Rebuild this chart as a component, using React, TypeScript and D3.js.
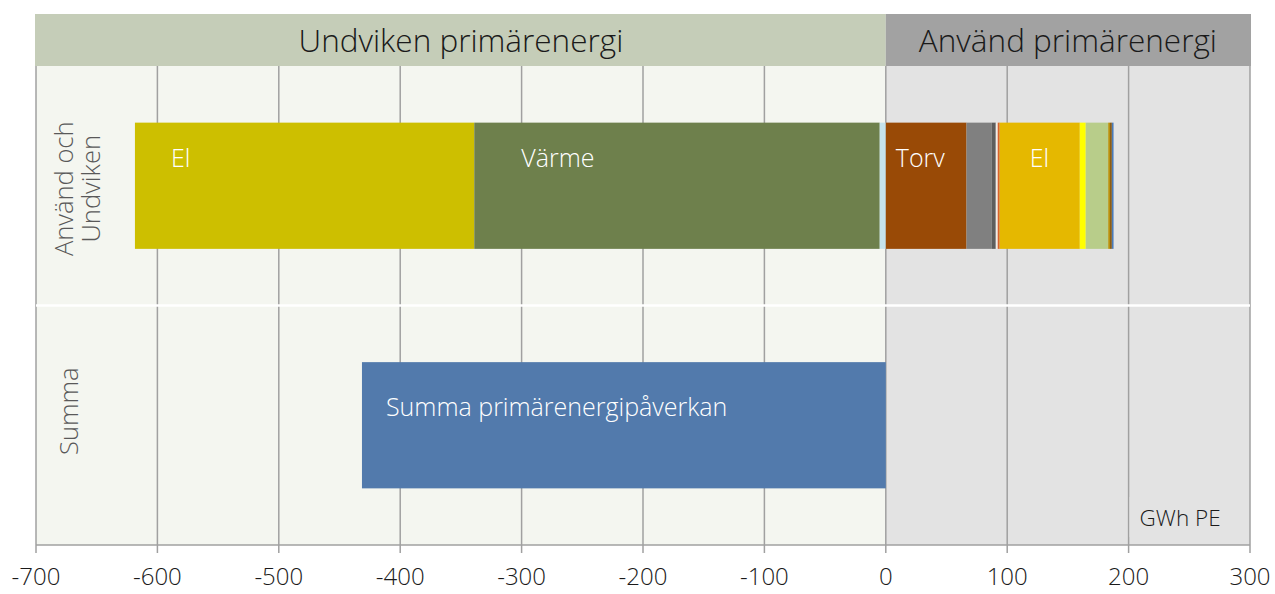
import React from 'react';
import * as d3 from 'd3';

const W = 1275;
const H = 594;

const categories = ['Använd och Undviken', 'Summa'];
const categoryLines = [['Använd och', 'Undviken'], ['Summa']];

// avoided primary energy (negative), left to right from the far end
const avoidedNames = ['El', 'Värme', 'Övrigt'];
const avoidedValues = [-279.5, -334, -5];
const avoidedColors = ['#cdbf00', '#6e804c', '#c5e3ec'];
const avoidedLabels = ['El', 'Värme', ''];

// used primary energy (positive), from 0 outwards
const usedNames = ['Torv', 'Avfall', 'Olja', 'Ljus', 'Gas', 'El', 'Sol', 'Bio', 'Kol', 'Trä', 'Vatten'];
const usedValues = [66.5, 20.8, 3.3, 1.6, 1.6, 66, 4.9, 18.5, 1.5, 1.5, 1.4];
const usedColors = ['#994a06', '#808080', '#5e5e5e', '#f2ece6', '#d9622b', '#e5b800', '#ffff00', '#b8cd8a', '#b8900b', '#8b5a10', '#4a7ab8'];
const usedLabels = ['Torv', '', '', '', '', 'El', '', '', '', '', ''];

const summaValue = -431.5;
const summaLabel = 'Summa primärenergipåverkan';

const xTicks = [-700, -600, -500, -400, -300, -200, -100, 0, 100, 200, 300];
const headerLeft = 'Undviken primärenergi';
const headerRight = 'Använd primärenergi';
const unitLabel = 'GWh PE';

const font = '"Open Sans", "Segoe UI", sans-serif';

// label inset from the left edge of its segment, px
const labelInset: Record<string, number> = { 'neg-El': 36, 'neg-Värme': 47, 'pos-Torv': 10, 'pos-El': 30 };

export default function App() {
  const top = 66;
  const bottom = 545;
  const x = d3.scaleLinear().domain([-700, 300]).range([36, 1250]);
  const y = d3.scaleBand<string>().domain(categories).range([top, bottom]).padding(0);
  const bw = y.bandwidth();
  const barH = bw * 0.527;
  const barY = (c: string) => (y(c) as number) + (bw - barH) / 2;

  // stack negative pieces from the far end toward zero
  let acc = d3.sum(avoidedValues);
  const negSegs = avoidedValues.map((v, i) => {
    const s = acc;
    acc = acc - v;
    return { key: 'neg-' + avoidedNames[i], x0: s, x1: acc, color: avoidedColors[i], label: avoidedLabels[i] };
  });
  let pacc = 0;
  const posSegs = usedValues.map((v, i) => {
    const s = pacc;
    pacc += v;
    return { key: 'pos-' + usedNames[i], x0: s, x1: pacc, color: usedColors[i], label: usedLabels[i] };
  });
  const segs = [...negSegs, ...posSegs];
  const r0 = categories[0];
  const r1 = categories[1];
  const catCenter = [3, -14];

  return (
    <svg width={W} height={H} style={{ position: 'absolute', left: 0, top: 0, fontFamily: font }}>
      <rect x={0} y={0} width={W} height={H} fill="#ffffff" />
      {/* backgrounds */}
      <rect x={x(-700)} y={top} width={x(0) - x(-700)} height={bottom - top} fill="#f4f6f0" />
      <rect x={x(0)} y={top} width={x(300) - x(0)} height={bottom - top} fill="#e3e3e3" />
      {/* header band */}
      <rect x={x(-700) - 1} y={14} width={x(0) - x(-700) + 1} height={top - 14} fill="#c5cdb8" />
      <rect x={x(0)} y={14} width={x(300) - x(0) + 1} height={top - 14} fill="#a2a2a2" />
      <text x={(x(-700) + x(0)) / 2} y={52} textAnchor="middle" fontSize={31.5} fill="#1a1a1a" fontWeight={300}>{headerLeft}</text>
      <text x={(x(0) + x(300)) / 2} y={52} textAnchor="middle" fontSize={31.5} fill="#1a1a1a" fontWeight={300}>{headerRight}</text>
      {/* grid */}
      {xTicks.map((t) => (
        <line key={t} x1={x(t)} x2={x(t)} y1={top} y2={bottom} stroke="#a0a0a0" strokeWidth={1.5} />
      ))}
      {/* row separator */}
      <line x1={x(-700)} x2={x(300)} y1={y(r1) as number} y2={y(r1) as number} stroke="#ffffff" strokeWidth={2.5} />
      {/* category labels */}
      {categories.map((c, i) => {
        const cy = (y(c) as number) + bw / 2 + catCenter[i];
        const lines = categoryLines[i];
        return lines.map((ln, j) => (
          <text
            key={c + j}
            transform={`translate(${lines.length > 1 ? 73 + j * 27 : 78},${cy}) rotate(-90)`}
            textAnchor="middle"
            fontSize={25.5}
            fill="#595959"
            fontWeight={300}
          >
            {ln}
          </text>
        ));
      })}
      {/* stacked bar */}
      {segs.map((s) => (
        <rect key={s.key} x={x(Math.min(s.x0, s.x1))} y={barY(r0)} width={Math.abs(x(s.x1) - x(s.x0))} height={barH} fill={s.color} />
      ))}
      {segs.filter((s) => s.label).map((s) => (
        <text key={'l' + s.key} x={x(Math.min(s.x0, s.x1)) + (labelInset[s.key] ?? 10)} y={barY(r0) + 44} fontSize={25} fill="#ffffff" fontWeight={300}>
          {s.label}
        </text>
      ))}
      {/* summa */}
      <rect x={x(summaValue)} y={barY(r1)} width={x(0) - x(summaValue)} height={barH} fill="#527aac" />
      <text x={x(summaValue) + 24} y={barY(r1) + 54} fontSize={25} fill="#ffffff" fontWeight={300}>{summaLabel}</text>
      {/* unit label */}
      <rect x={x(200) + 1} y={497} width={110} height={40} fill="#e3e3e3" />
      <text x={x(200) + 11} y={526} fontSize={22.5} fill="#1a1a1a" fontWeight={300}>{unitLabel}</text>
      {/* axis */}
      <line x1={x(-700)} x2={x(300)} y1={bottom} y2={bottom} stroke="#a0a0a0" strokeWidth={1.5} />
      {xTicks.map((t) => (
        <g key={'t' + t}>
          <line x1={x(t)} x2={x(t)} y1={bottom} y2={bottom + 8} stroke="#a0a0a0" strokeWidth={1.5} />
          <text x={x(t)} y={585} textAnchor="middle" fontSize={24} fill="#1a1a1a" fontWeight={300}>{t}</text>
        </g>
      ))}
    </svg>
  );
}
